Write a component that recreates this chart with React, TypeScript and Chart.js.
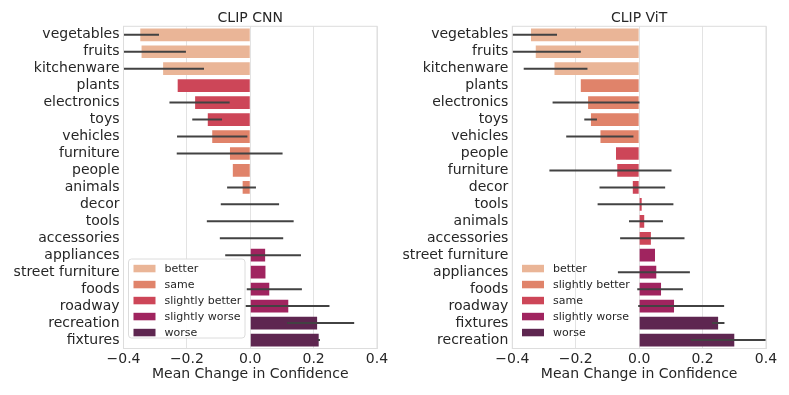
import React, { useEffect, useRef } from "react";
import { Chart, registerables } from "chart.js";
Chart.register(...registerables);

// ---------- data ----------
const cnnCategories = ["vegetables", "fruits", "kitchenware", "plants", "electronics", "toys", "vehicles", "furniture", "people", "animals", "decor", "tools", "accessories", "appliances", "street furniture", "foods", "roadway", "recreation", "fixtures"];
const cnnValues = [-0.347, -0.343, -0.275, -0.229, -0.174, -0.134, -0.12, -0.064, -0.055, -0.024, 0, 0, 0, 0.047, 0.048, 0.06, 0.12, 0.211, 0.216];
const cnnErrLow = [-0.406, -0.483, -0.404, null, -0.255, -0.183, -0.231, -0.232, null, -0.073, -0.093, -0.137, -0.096, -0.079, null, -0.011, -0.015, 0.116, 0.213];
const cnnErrHigh = [-0.288, -0.203, -0.146, null, -0.065, -0.089, -0.009, 0.102, null, 0.018, 0.091, 0.137, 0.104, 0.16, null, 0.163, 0.25, 0.328, 0.22];
const cnnGroups = ["better", "better", "better", "slightly better", "slightly better", "slightly better", "same", "same", "same", "same", "same", "same", "same", "slightly worse", "slightly worse", "slightly worse", "slightly worse", "worse", "worse"];
const cnnLegend = ["better", "same", "slightly better", "slightly worse", "worse"];

const vitCategories = ["vegetables", "fruits", "kitchenware", "plants", "electronics", "toys", "vehicles", "people", "furniture", "decor", "tools", "animals", "accessories", "street furniture", "appliances", "foods", "roadway", "fixtures", "recreation"];
const vitValues = [-0.341, -0.326, -0.267, -0.184, -0.161, -0.152, -0.122, -0.073, -0.069, -0.02, 0.008, 0.016, 0.037, 0.05, 0.054, 0.069, 0.11, 0.249, 0.3];
const vitErrLow = [-0.423, -0.468, -0.364, null, -0.273, -0.173, -0.23, null, -0.283, -0.125, -0.131, -0.032, -0.06, null, -0.067, -0.006, -0.003, 0.23, 0.163];
const vitErrHigh = [-0.259, -0.184, -0.163, null, 0.001, -0.133, -0.018, null, 0.102, 0.082, 0.108, 0.075, 0.143, null, 0.16, 0.138, 0.268, 0.269, 0.437];
const vitGroups = ["better", "better", "better", "slightly better", "slightly better", "slightly better", "slightly better", "same", "same", "same", "same", "same", "same", "slightly worse", "slightly worse", "slightly worse", "slightly worse", "worse", "worse"];
const vitLegend = ["better", "slightly better", "same", "slightly worse", "worse"];

const paletteColors = ["#EAB597", "#E0836A", "#CD4658", "#A0245F", "#5E2650"];
const xTicks = [-0.4, -0.2, 0, 0.2, 0.4];
const xTitle = "Mean Change in Confidence";

const FONT = "DejaVu Sans";
const TEXT = "#262626";

type PanelProps = {
  title: string;
  categories: string[];
  values: number[];
  errLow: (number | null)[];
  errHigh: (number | null)[];
  groups: string[];
  legend: string[];
  width: number;
  yWidth: number;
  padRight: number;
  legendFrame: boolean;
  legendX: number;
};

function Panel(p: PanelProps) {
  const ref = useRef<HTMLCanvasElement | null>(null);
  useEffect(() => {
    if (!ref.current) return;
    const colors = p.groups.map((g) => paletteColors[p.legend.indexOf(g)]);

    const framePlugin = {
      id: "frame",
      afterDraw(chart: any) {
        const { ctx, chartArea: a } = chart;
        ctx.save();
        ctx.strokeStyle = "#dddddd";
        ctx.lineWidth = 1;
        ctx.strokeRect(a.left, a.top, a.right - a.left, a.bottom - a.top);
        ctx.restore();
      },
    };

    const errPlugin = {
      id: "errbars",
      afterDatasetsDraw(chart: any) {
        const { ctx, chartArea: a } = chart;
        const xs = chart.scales.x;
        const ys = chart.scales.y;
        ctx.save();
        ctx.beginPath();
        ctx.rect(a.left, a.top, a.right - a.left, a.bottom - a.top);
        ctx.clip();
        ctx.strokeStyle = "#424242";
        ctx.lineWidth = 2;
        p.categories.forEach((_, i) => {
          const lo = p.errLow[i];
          const hi = p.errHigh[i];
          if (lo == null || hi == null) return;
          const y = ys.getPixelForValue(i);
          ctx.beginPath();
          ctx.moveTo(xs.getPixelForValue(lo), y);
          ctx.lineTo(xs.getPixelForValue(hi), y);
          ctx.stroke();
        });
        ctx.restore();
      },
    };

    const legendPlugin = {
      id: "customLegend",
      afterDraw(chart: any) {
        const { ctx } = chart;
        const x0 = p.legendX;
        const top = 259;
        ctx.save();
        if (p.legendFrame) {
          const w = 116.5, h = 79;
          const r = 3;
          ctx.beginPath();
          ctx.moveTo(x0 + r, top);
          ctx.lineTo(x0 + w - r, top);
          ctx.arcTo(x0 + w, top, x0 + w, top + r, r);
          ctx.lineTo(x0 + w, top + h - r);
          ctx.arcTo(x0 + w, top + h, x0 + w - r, top + h, r);
          ctx.lineTo(x0 + r, top + h);
          ctx.arcTo(x0, top + h, x0, top + h - r, r);
          ctx.lineTo(x0, top + r);
          ctx.arcTo(x0, top, x0 + r, top, r);
          ctx.closePath();
          ctx.fillStyle = "rgba(255,255,255,0.9)";
          ctx.fill();
          ctx.strokeStyle = "#dcdcdc";
          ctx.lineWidth = 1;
          ctx.stroke();
        }
        ctx.font = `11px "${FONT}"`;
        ctx.textBaseline = "middle";
        ctx.textAlign = "left";
        p.legend.forEach((lab, i) => {
          const cy = 268.3 + i * 16;
          ctx.fillStyle = paletteColors[i];
          ctx.fillRect(x0 + 5, cy - 3.5, 22, 7.5);
          ctx.fillStyle = TEXT;
          ctx.fillText(lab, x0 + 36, cy + 0.5);
        });
        ctx.restore();
      },
    };

    const chart = new Chart(ref.current, {
      type: "bar",
      data: {
        labels: p.categories,
        datasets: [
          {
            data: p.values,
            backgroundColor: colors,
            borderWidth: 0,
            barPercentage: 0.75,
            categoryPercentage: 1,
          },
        ],
      },
      options: {
        indexAxis: "y",
        responsive: false,
        animation: false,
        devicePixelRatio: 1,
        layout: { padding: { left: 0, right: p.padRight, top: 0, bottom: 0 } },
        plugins: {
          legend: { display: false },
          tooltip: { enabled: false },
          title: {
            display: true,
            text: p.title,
            fullSize: false,
            color: TEXT,
            font: { family: FONT, size: 14, weight: "normal", lineHeight: 1.2 },
            padding: { top: 9.5, bottom: 0 },
          },
        },
        scales: {
          x: {
            type: "linear",
            min: -0.4,
            max: 0.4,
            afterBuildTicks: (s: any) => {
              s.ticks = xTicks.map((v) => ({ value: v }));
            },
            afterFit: (s: any) => {
              s.height = 46.5;
            },
            ticks: {
              color: TEXT,
              font: { family: FONT, size: 14, lineHeight: 1.2 },
              padding: 2,
              maxRotation: 0,
              callback: (v: any) => {
                const n = Number(v);
                const s = Math.abs(n).toFixed(1);
                return n < -1e-9 ? "\u2212" + s : s;
              },
            },
            grid: { color: "#e3e3e3", lineWidth: 1, drawTicks: false },
            border: { display: false },
            title: {
              display: true,
              text: xTitle,
              color: TEXT,
              font: { family: FONT, size: 14, lineHeight: 1.1 },
              padding: { top: 0, bottom: 13 },
            },
          },
          y: {
            type: "category",
            afterFit: (s: any) => {
              s.width = p.yWidth;
            },
            ticks: {
              color: TEXT,
              font: { family: FONT, size: 14 },
              padding: 4,
              autoSkip: false,
            },
            grid: { display: false, drawTicks: false },
            border: { display: false },
          },
        },
      },
      plugins: [framePlugin, errPlugin, legendPlugin],
    } as any);
    return () => chart.destroy();
  }, []);
  return <canvas ref={ref} width={p.width} height={395} style={{ display: "block", width: p.width, height: 395 }} />;
}

export default function App() {
  return (
    <div style={{ position: "absolute", left: 0, top: 0, width: 789, height: 395, display: "flex", background: "#fff" }}>
      <Panel
        title="CLIP CNN"
        categories={cnnCategories}
        values={cnnValues}
        errLow={cnnErrLow}
        errHigh={cnnErrHigh}
        groups={cnnGroups}
        legend={cnnLegend}
        width={394}
        yWidth={123.5}
        padRight={17}
        legendFrame={true}
        legendX={128.5}
      />
      <Panel
        title="CLIP ViT"
        categories={vitCategories}
        values={vitValues}
        errLow={vitErrLow}
        errHigh={vitErrHigh}
        groups={vitGroups}
        legend={vitLegend}
        width={395}
        yWidth={118.3}
        padRight={23}
        legendFrame={false}
        legendX={123}
      />
    </div>
  );
}
